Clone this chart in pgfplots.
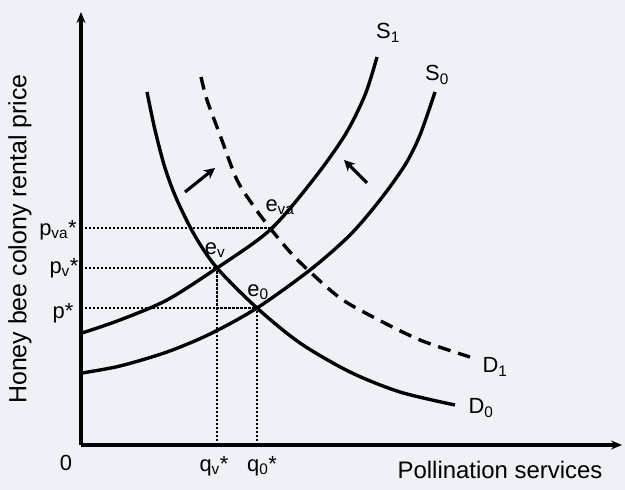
\documentclass[border=0pt]{standalone}
\usepackage{fontspec}
\setmainfont{Liberation Sans}
\usepackage{pgfplots}
\pgfplotsset{compat=1.18}
\usetikzlibrary{arrows.meta}
\definecolor{bgc}{HTML}{EEF2F7}
\newcommand\lab{\fontsize{22}{26}\selectfont}
\begin{document}
\begin{tikzpicture}[x=1bp,y=1bp]
\fill[bgc] (-81,-45) rectangle (544,445);
\begin{axis}[
  at={(0,0)}, anchor=south west,
  scale only axis, width=541bp, height=433bp,
  xmin=0, xmax=541, ymin=0, ymax=433,
  axis lines=none,
  xtick=\empty, ytick=\empty,
  clip=false,
]
% axes
\addplot[black, line width=3.2pt, -{Stealth[length=11pt,width=9pt]}] coordinates {(0,0) (541,0)};
\addplot[black, line width=3.2pt, -{Stealth[length=11pt,width=9pt]}] coordinates {(0,0) (0,433)};
% dotted guides
\addplot[black, line width=1.1pt, dash pattern=on 2.2pt off 1.8pt] coordinates {(0,217) (189,217)};
\addplot[black, line width=1.1pt, dash pattern=on 2.2pt off 1.8pt] coordinates {(0,177) (136,177)};
\addplot[black, line width=1.1pt, dash pattern=on 2.2pt off 1.8pt] coordinates {(0,137) (176,137)};
\addplot[black, line width=1.1pt, dash pattern=on 2.2pt off 1.8pt] coordinates {(136,0) (136,177)};
\addplot[black, line width=1.1pt, dash pattern=on 2.2pt off 1.8pt] coordinates {(176,0) (176,137)};
% S0
\addplot[black, line width=3.4pt, smooth] coordinates {
(1,72) (39,79) (86,93) (129,111) (176,137) (229,175) (269,210) (299,245) (324,280) (339,310) (354,353)};
% S1
\addplot[black, line width=3.4pt, smooth] coordinates {
(1,112) (39,125) (86,145) (136,177) (189,215) (232,265) (264,310) (284,350) (296,388)};
% D0
\addplot[black, line width=3.4pt, smooth] coordinates {
(66,353) (74,315) (84,277) (96,245) (114,209) (136,177) (176,137) (219,102) (269,73) (319,53) (374,40)};
% D1 dashed
\addplot[black, line width=3.4pt, smooth, dash pattern=on 13pt off 8pt] coordinates {
(120,368) (126,345) (139,310) (156,265) (174,237) (189,217) (209,193) (227,175) (259,147) (292,128) (339,105) (389,88)};
% shift arrows
\addplot[black, line width=3.2pt, -{Stealth[length=11pt,width=11pt]}] coordinates {(104,253) (134,277)};
\addplot[black, line width=3.2pt, -{Stealth[length=11pt,width=11pt]}] coordinates {(286,262) (263,285)};
% labels
\node[font=\lab] at (axis cs:307,412) {S\textsubscript{1}};
\node[font=\lab] at (axis cs:356,370) {S\textsubscript{0}};
\node[font=\lab] at (axis cs:414,78) {D\textsubscript{1}};
\node[font=\lab] at (axis cs:400,37) {D\textsubscript{0}};
\node[font=\lab] at (axis cs:199,238) {e\textsubscript{va}};
\node[font=\lab] at (axis cs:134,195) {e\textsubscript{v}};
\node[font=\lab] at (axis cs:177,153) {e\textsubscript{0}};
\node[font=\lab] at (axis cs:-23,215) {p\textsubscript{va}*};
\node[font=\lab] at (axis cs:-17,177) {p\textsubscript{v}*};
\node[font=\lab] at (axis cs:-18,132) {p*};
\node[font=\lab] at (axis cs:-15,-18) {0};
\node[font=\lab] at (axis cs:133,-21) {q\textsubscript{v}*};
\node[font=\lab] at (axis cs:181,-21) {q\textsubscript{0}*};
\node[font=\fontsize{24}{28}\selectfont, anchor=base] at (axis cs:419,-33) {Pollination services};
\node[font=\fontsize{25}{30}\selectfont, rotate=90] at (axis cs:-61,206) {Honey bee colony rental price};
\end{axis}
\end{tikzpicture}
\end{document}
